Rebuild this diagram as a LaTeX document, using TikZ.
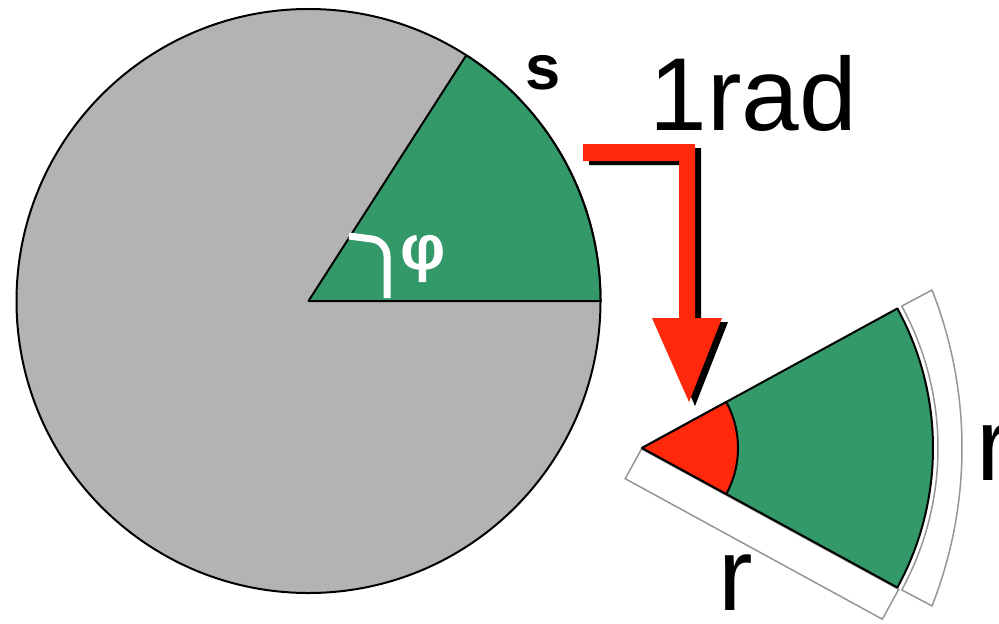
\documentclass[tikz,border=0pt]{standalone}
\usepackage{fontspec}
\setmainfont{Liberation Sans}
\definecolor{sectorgreen}{RGB}{51,153,104}
\definecolor{diskgray}{RGB}{179,179,179}
\definecolor{arrowred}{RGB}{255,40,10}
\definecolor{stripgray}{RGB}{150,150,150}
\begin{document}
\begin{tikzpicture}[x=0.02cm, y=0.02cm,
    outline/.style={draw=black, line width=0.04cm, line join=round},
    strip/.style={draw=stripgray, fill=white, line width=0.03cm},
    biglabel/.style={inner sep=0, anchor=base west, font=\fontsize{59}{59}\selectfont}]
    \useasboundingbox (0,0) rectangle (999,623);
    \clip (0,0) rectangle (999,623);
    % Full circle with the arc s
    \coordinate (O) at (308.5,322);
    \draw[outline, fill=diskgray] (O) circle (292);
    \draw[outline, fill=sectorgreen] (O) -- +(0:292) arc (0:57.3:292) -- cycle;
    \draw[white, line width=0.14cm, rounded corners=0.3cm] (349,387) -- (387,382) -- (387,325);
    \node[text=white, inner sep=0, font=\fontsize{36}{36}\selectfont\bfseries] (phi) at (423,364) {φ};
    \node[inner sep=0, anchor=base west, font=\fontsize{36}{36}\selectfont\bfseries] (s) at (525,533) {s};
    % Sector of one radian, with its two sides marked r
    \coordinate (A) at (642,175);
    \begin{scope}[shift={(A)}, rotate=-28.65]
        \draw[strip] (0,-1) rectangle (293,-35);
    \end{scope}
    \draw[strip] (A) ++(-28.65:296) arc (-28.65:28.65:296) -- (932,333) arc (21.5:-21.5:431) -- cycle;
    \draw[outline, fill=sectorgreen] (A) -- +(-28.65:291) arc (-28.65:28.65:291) -- cycle;
    \draw[outline, fill=arrowred] (A) -- +(-28.65:96) arc (-28.65:28.65:96) -- cycle;
    % Arrow and its shadow
    \fill[black, shift={(6,-4)}] (583,479) -- (695,479) -- (695,305) -- (722,305) -- (689,221) -- (652,305) -- (679,305) -- (679,462) -- (583,462) -- cycle;
    \fill[arrowred] (583,479) -- (695,479) -- (695,305) -- (722,305) -- (689,221) -- (652,305) -- (679,305) -- (679,462) -- (583,462) -- cycle;
    % Labels
    \node[biglabel] (rad) at (649,493) {1rad};
    \node[biglabel] (rarc) at (976,143) {r};
    \node[biglabel] (redge) at (718,13) {r};
\end{tikzpicture}
\end{document}
